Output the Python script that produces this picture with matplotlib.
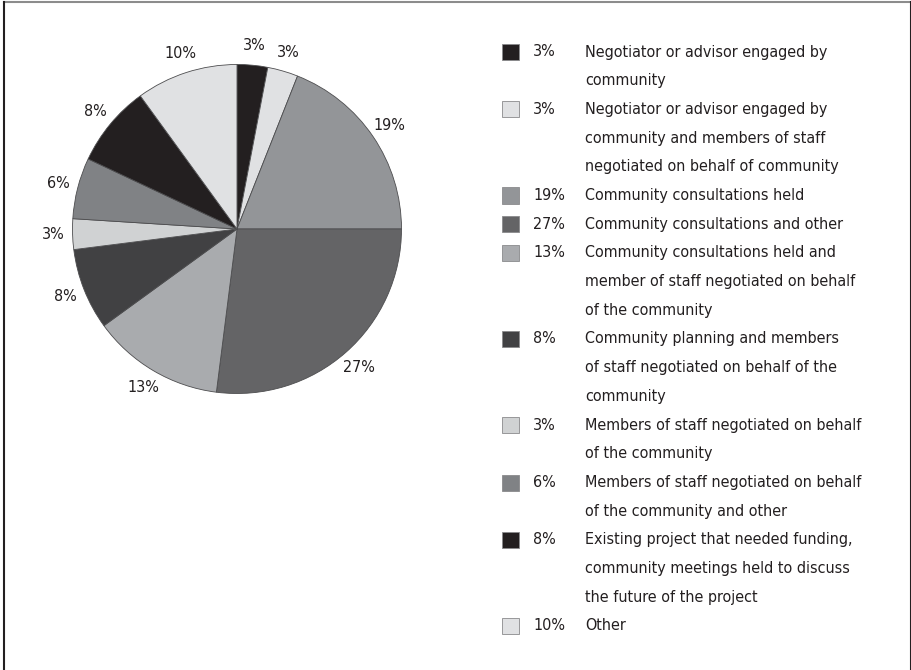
import matplotlib
matplotlib.use("Agg")
import matplotlib.pyplot as plt
from matplotlib.patches import Rectangle
from matplotlib.lines import Line2D

plt.rcParams["font.family"] = "DejaVu Sans"
plt.rcParams["font.stretch"] = "condensed"

W, H = 912, 670

values = [3, 3, 19, 27, 13, 8, 3, 6, 8, 10]
colors = ["#231f20", "#e0e1e3", "#939598", "#646466", "#a9abae",
          "#414143", "#d0d2d3", "#808285", "#231f20", "#e0e1e3"]
legend_labels = [
    "Negotiator or advisor engaged by\ncommunity",
    "Negotiator or advisor engaged by\ncommunity and members of staff\nnegotiated on behalf of community",
    "Community consultations held",
    "Community consultations and other",
    "Community consultations held and\nmember of staff negotiated on behalf\nof the community",
    "Community planning and members\nof staff negotiated on behalf of the\ncommunity",
    "Members of staff negotiated on behalf\nof the community",
    "Members of staff negotiated on behalf\nof the community and other",
    "Existing project that needed funding,\ncommunity meetings held to discuss\nthe future of the project",
    "Other",
]

FS = 11.5
TEXT = "#231f20"


def fx(px):
    return px / W


def fy(py):
    return 1 - py / H


fig = plt.figure(figsize=(W / 100, H / 100), dpi=100)

# pie: centre (237, 229) px, radius 164.5 px
cx, cy, r = 237, 229, 164.5
ax = fig.add_axes([fx(cx - r), fy(cy + r), 2 * r / W, 2 * r / H])
ax.pie(
    values,
    colors=colors,
    startangle=90,
    counterclock=False,
    labels=[f"{v}%" for v in values],
    labeldistance=1.12,
    radius=1,
    wedgeprops=dict(edgecolor="#4d4d4f", linewidth=0.6),
    textprops=dict(fontsize=FS, color=TEXT, ha="center", va="center"),
)
ax.set_xlim(-1, 1)
ax.set_ylim(-1, 1)
ax.set_aspect("equal")
ax.axis("off")

# legend, one text line every 28.7 px
line_h = 28.7
y = 52
for value, color, label in zip(values, colors, legend_labels):
    fig.patches.append(Rectangle((fx(502), fy(y + 8)), 17 / W, 16 / H,
                                 transform=fig.transFigure, facecolor=color,
                                 edgecolor="#8a8a8c", linewidth=0.6))
    fig.text(fx(533), fy(y), f"{value}%", fontsize=FS, color=TEXT,
             va="center", ha="left")
    parts = label.split("\n")
    for i, part in enumerate(parts):
        fig.text(fx(585), fy(y + i * line_h), part, fontsize=FS,
                 color=TEXT, va="center", ha="left")
    y += line_h * len(parts)

# frame
fig.lines.append(Line2D([fx(4), fx(911)], [fy(2), fy(2)], transform=fig.transFigure,
                        color="#8c8c8c", linewidth=1.5))
fig.lines.append(Line2D([fx(4), fx(4)], [fy(2), 0], transform=fig.transFigure,
                        color="#231f20", linewidth=1.5))
fig.lines.append(Line2D([fx(911), fx(911)], [fy(2), 0], transform=fig.transFigure,
                        color="#231f20", linewidth=1.5))

fig.savefig("out.png", dpi=100, facecolor="white")
